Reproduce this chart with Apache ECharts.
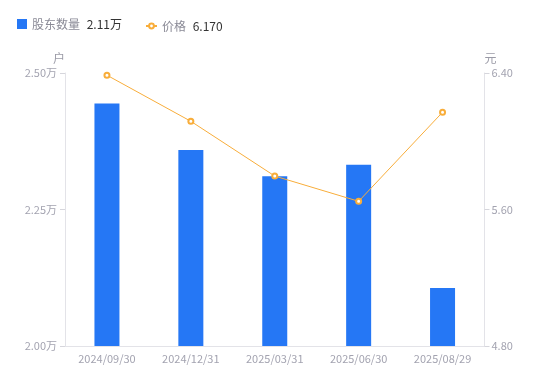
<!DOCTYPE html>
<html>
<head>
<meta charset="utf-8">
<script src="https://cdn.jsdelivr.net/npm/echarts@6/dist/echarts.min.js"></script>
<style>
html,body{margin:0;padding:0;background:#fff;}
#main{width:550px;height:381px;}
</style>
</head>
<body>
<div id="main"></div>
<script>
var categories = ['2024/09/30', '2024/12/31', '2025/03/31', '2025/06/30', '2025/08/29'];
var holders = [2.444, 2.359, 2.311, 2.332, 2.106]; // 万户
var prices = [6.387, 6.117, 5.796, 5.648, 6.170]; // 元
var leftTicks = [2.00, 2.25, 2.50];
var rightTicks = [4.80, 5.60, 6.40];

var chart = echarts.init(document.getElementById('main'));
var FONT = 'Noto Sans CJK SC';
var labelColor = '#a3a3b0';
var lineColor = '#e3e3e8';
var tickColor = '#d6d6dc';
var orange = '#f8ad3a';
var blue = '#2577f5';

var legendRich = {
  n: { color: '#8a8a96', fontSize: 12, fontFamily: FONT },
  v: { color: '#333', fontSize: 12, fontFamily: FONT }
};

chart.setOption({
  animation: false,
  legend: [
    {
      left: 12,
      top: 13,
      itemWidth: 10,
      itemHeight: 10,
      data: [{ name: '股东数量', icon: 'rect' }],
      formatter: function (name) {
        return '{n|' + name + '}  {v|' + holders[holders.length - 1].toFixed(2) + '万}';
      },
      textStyle: { rich: legendRich }
    },
    {
      left: 140,
      top: 15,
      itemWidth: 11,
      itemHeight: 6,
      data: [{ name: '价格' }],
      formatter: function (name) {
        return '{n|' + name + '}  {v|' + prices[prices.length - 1].toFixed(3) + '}';
      },
      textStyle: { rich: legendRich }
    }
  ],
  grid: { left: 65, right: 65.5, top: 73, bottom: 35 },
  xAxis: {
    type: 'category',
    data: categories,
    axisLine: { lineStyle: { color: lineColor } },
    axisTick: { show: false },
    axisLabel: { color: labelColor, fontSize: 11, margin: 7, fontFamily: FONT }
  },
  yAxis: [
    {
      type: 'value',
      name: '户',
      nameGap: 9,
      nameTextStyle: { color: '#9a9aa6', fontSize: 12, align: 'right', fontFamily: FONT },
      min: leftTicks[0],
      max: leftTicks[leftTicks.length - 1],
      interval: 0.25,
      splitLine: { show: false },
      axisLine: { show: true, lineStyle: { color: lineColor } },
      axisTick: { show: true, length: 5, lineStyle: { color: tickColor } },
      axisLabel: {
        color: labelColor, fontSize: 11, margin: 8, fontFamily: FONT,
        formatter: function (v) { return v.toFixed(2) + '万'; }
      }
    },
    {
      type: 'value',
      name: '元',
      nameGap: 9,
      nameTextStyle: { color: '#9a9aa6', fontSize: 12, align: 'left', fontFamily: FONT },
      min: rightTicks[0],
      max: rightTicks[rightTicks.length - 1],
      interval: 0.8,
      splitLine: { show: false },
      axisLine: { show: true, lineStyle: { color: lineColor } },
      axisTick: { show: true, length: 5, lineStyle: { color: tickColor } },
      axisLabel: {
        color: labelColor, fontSize: 11, margin: 7, fontFamily: FONT,
        formatter: function (v) { return v.toFixed(2); }
      }
    }
  ],
  series: [
    {
      name: '股东数量',
      type: 'bar',
      yAxisIndex: 0,
      data: holders,
      barWidth: 25,
      itemStyle: { color: blue }
    },
    {
      name: '价格',
      type: 'line',
      yAxisIndex: 1,
      data: prices,
      symbol: 'emptyCircle',
      symbolSize: 5,
      lineStyle: { color: orange, width: 1 },
      itemStyle: { color: orange, borderWidth: 1.5 }
    }
  ]
});
</script>
</body>
</html>
